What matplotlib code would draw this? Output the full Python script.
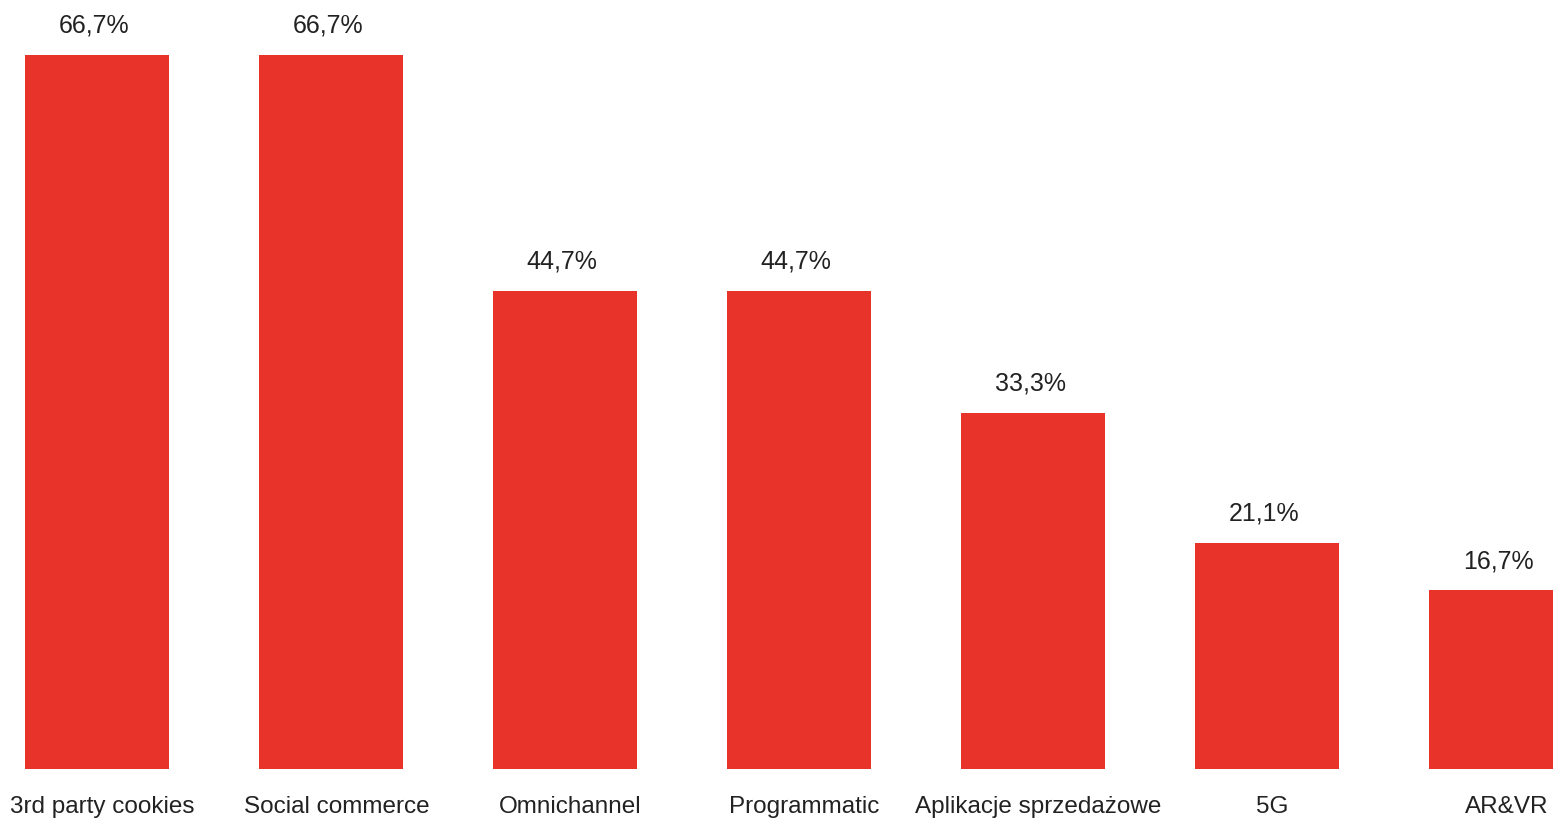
import matplotlib
matplotlib.use("Agg")
import matplotlib.pyplot as plt

categories = ["3rd party cookies", "Social commerce", "Omnichannel", "Programmatic",
              "Aplikacje sprzedażowe", "5G", "AR&VR"]
values = [66.7, 66.7, 44.7, 44.7, 33.3, 21.1, 16.7]
value_labels = ["66,7%", "66,7%", "44,7%", "44,7%", "33,3%", "21,1%", "16,7%"]

plt.rcParams['font.family'] = ['Liberation Sans', 'DejaVu Sans']

W, H = 1553, 819
fig = plt.figure(figsize=(W / 100, H / 100), dpi=100)
base_px = 769
ax = fig.add_axes([0, (H - base_px) / H, 1, base_px / H])

bar_color = "#E73329"
text_color = "#222222"
xs = list(range(len(categories)))
ax.bar(xs, values, width=0.615, color=bar_color, linewidth=0)

px_per_unit = 714 / 66.7
ax.set_ylim(0, base_px / px_per_unit)
ax.set_xlim(-97 / 234, (W - 97) / 234)

for x, v, lab in zip(xs, values, value_labels):
    ax.annotate(lab, (x, v), xytext=(-2, 16), textcoords="offset points",
                ha="center", va="baseline", fontsize=18, color=text_color,
                annotation_clip=False)

for x, cat in zip(xs, categories):
    ax.annotate(cat, (x, 0), xytext=(4, -32), textcoords="offset points",
                ha="center", va="baseline", fontsize=17.5, color=text_color,
                annotation_clip=False)

ax.set_xticks([])
ax.set_yticks([])
for s in ax.spines.values():
    s.set_visible(False)

fig.savefig("out.png", dpi=100, facecolor="white")
